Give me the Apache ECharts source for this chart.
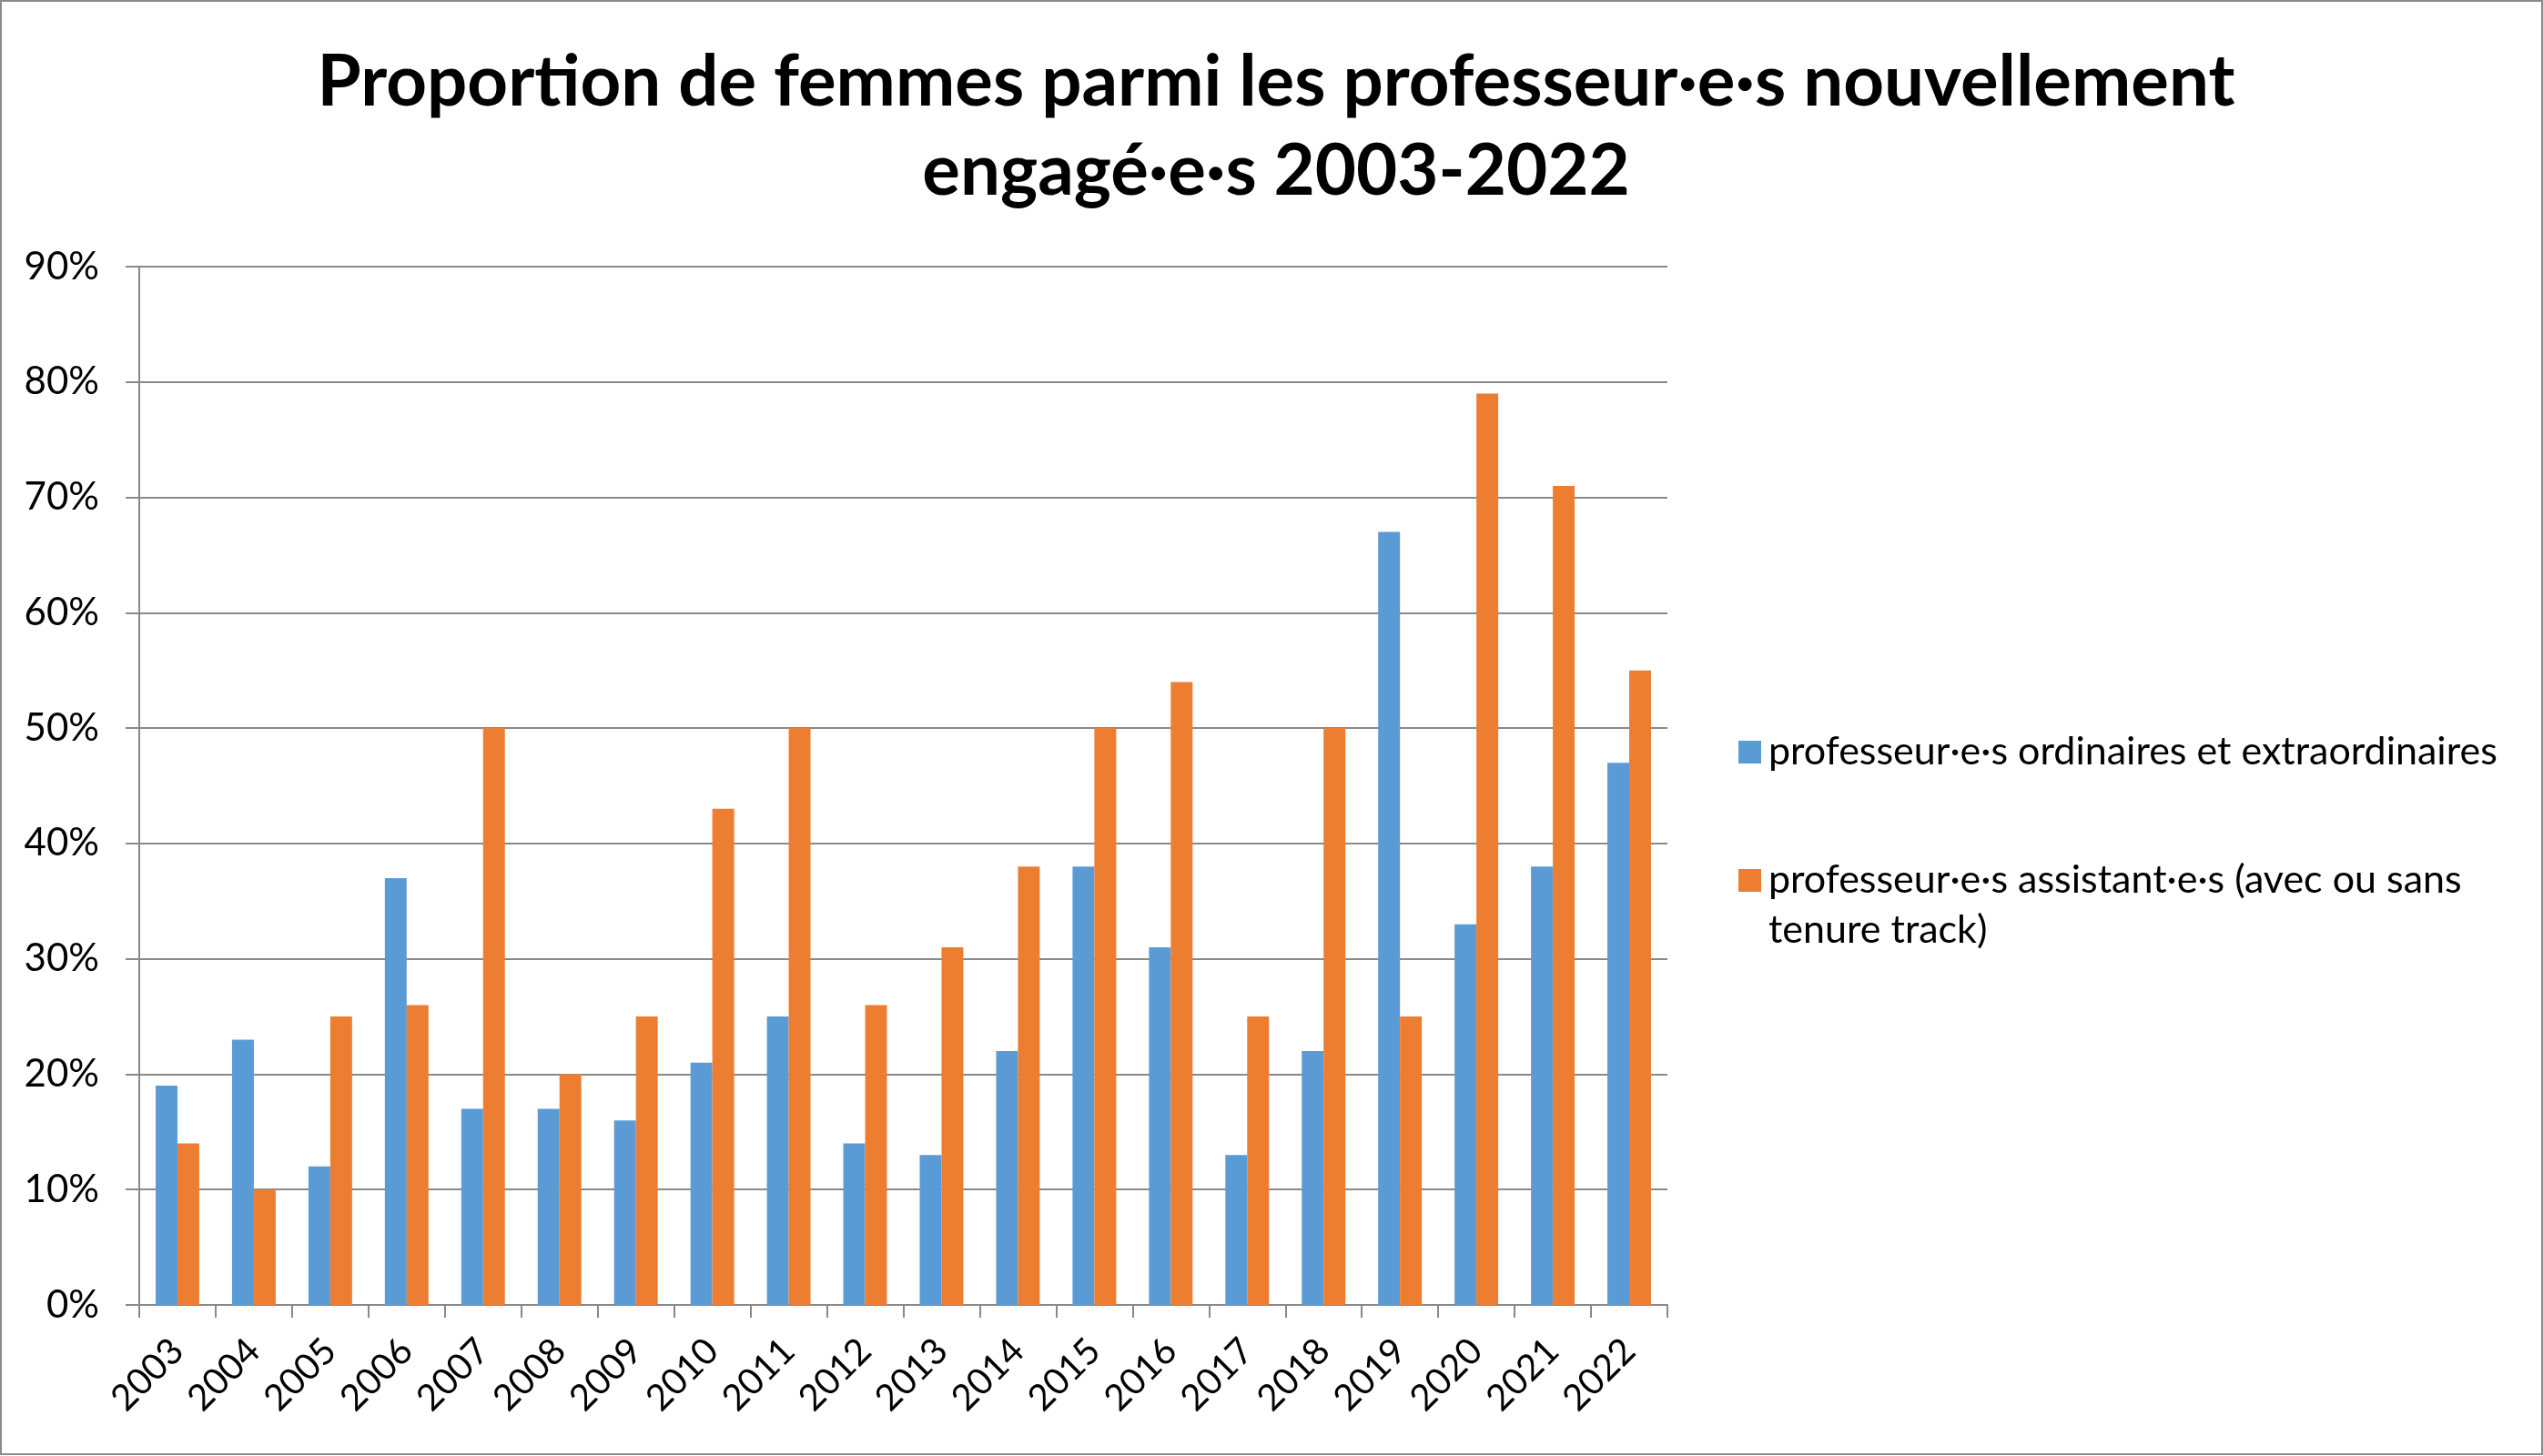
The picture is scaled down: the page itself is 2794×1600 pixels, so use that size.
<!DOCTYPE html>
<html><head><meta charset="utf-8">
<script src="https://cdn.jsdelivr.net/npm/echarts@6/dist/echarts.min.js"></script>
<style>html,body{margin:0;padding:0;background:#fff}#c{width:2794px;height:1600px}</style>
</head><body><div id="c"></div>
<script>
const years = ['2003','2004','2005','2006','2007','2008','2009','2010','2011','2012','2013','2014','2015','2016','2017','2018','2019','2020','2021','2022'];
const ordinaires = [19,23,12,37,17,17,16,21,25,14,13,22,38,31,13,22,67,33,38,47];
const assistants = [14,10,25,26,50,20,25,43,50,26,31,38,50,54,25,50,25,79,71,55];
const yTicks = {min:0, max:90, interval:10};
const name1 = 'professeur·e·s ordinaires et extraordinaires';
const name2 = 'professeur·e·s assistant·e·s (avec ou sans tenure track)';

const FONT = 'Lato';
const chart = echarts.init(document.getElementById('c'));
chart.setOption({
  animation:false,
  backgroundColor:'#fff',
  title:{
    text:'Proportion de femmes parmi les professeur·e·s nouvellement\nengagé·e·s 2003-2022',
    left:1397, top:37, textAlign:'center',
    textStyle:{fontFamily:FONT, fontSize:78, fontWeight:'bold', color:'#000', lineHeight:98}
  },
  legend:[
    {data:[name1], orient:'vertical', left:1905, top:800, itemWidth:25, itemHeight:25,
     icon:'rect', textStyle:{fontFamily:FONT, fontSize:43, color:'#000', padding:[0,0,0,3]}},
    {data:[name2], orient:'vertical', left:1905, top:880, itemWidth:25, itemHeight:25,
     icon:'rect', formatter:()=>'\nprofesseur·e·s assistant·e·s (avec ou sans\ntenure track)',
     textStyle:{fontFamily:FONT, fontSize:43, color:'#000', lineHeight:55, padding:[0,0,0,3]}}
  ],
  grid:{left:153, right:962, top:293, bottom:166, containLabel:false},
  xAxis:{
    type:'category', data:years,
    axisLine:{lineStyle:{color:'#898989', width:2}},
    axisTick:{show:true, length:14, lineStyle:{color:'#898989', width:2}},
    axisLabel:{rotate:45, margin:44, fontFamily:FONT, fontSize:40, color:'#000', interval:0}
  },
  yAxis:{
    type:'value', min:yTicks.min, max:yTicks.max, interval:yTicks.interval,
    axisLine:{show:true, lineStyle:{color:'#898989', width:2}},
    axisTick:{show:true, length:15, inside:false, lineStyle:{color:'#898989', width:2}},
    splitLine:{lineStyle:{color:'#898989', width:2}},
    axisLabel:{formatter:'{value}%', margin:44, fontFamily:FONT, fontSize:42, color:'#000'}
  },
  series:[
    {name:name1, type:'bar', data:ordinaires, itemStyle:{color:'#5B9BD5'}, barGap:'0%', barCategoryGap:'42.9%'},
    {name:name2, type:'bar', data:assistants, itemStyle:{color:'#ED7D31'}, barGap:'0%', barCategoryGap:'42.9%'}
  ],
  graphic:[{type:'rect', shape:{x:1, y:1, width:2792, height:1597}, style:{fill:null, stroke:'#8b8b8b', lineWidth:2}, silent:true, z:100}]
});
</script></body></html>
